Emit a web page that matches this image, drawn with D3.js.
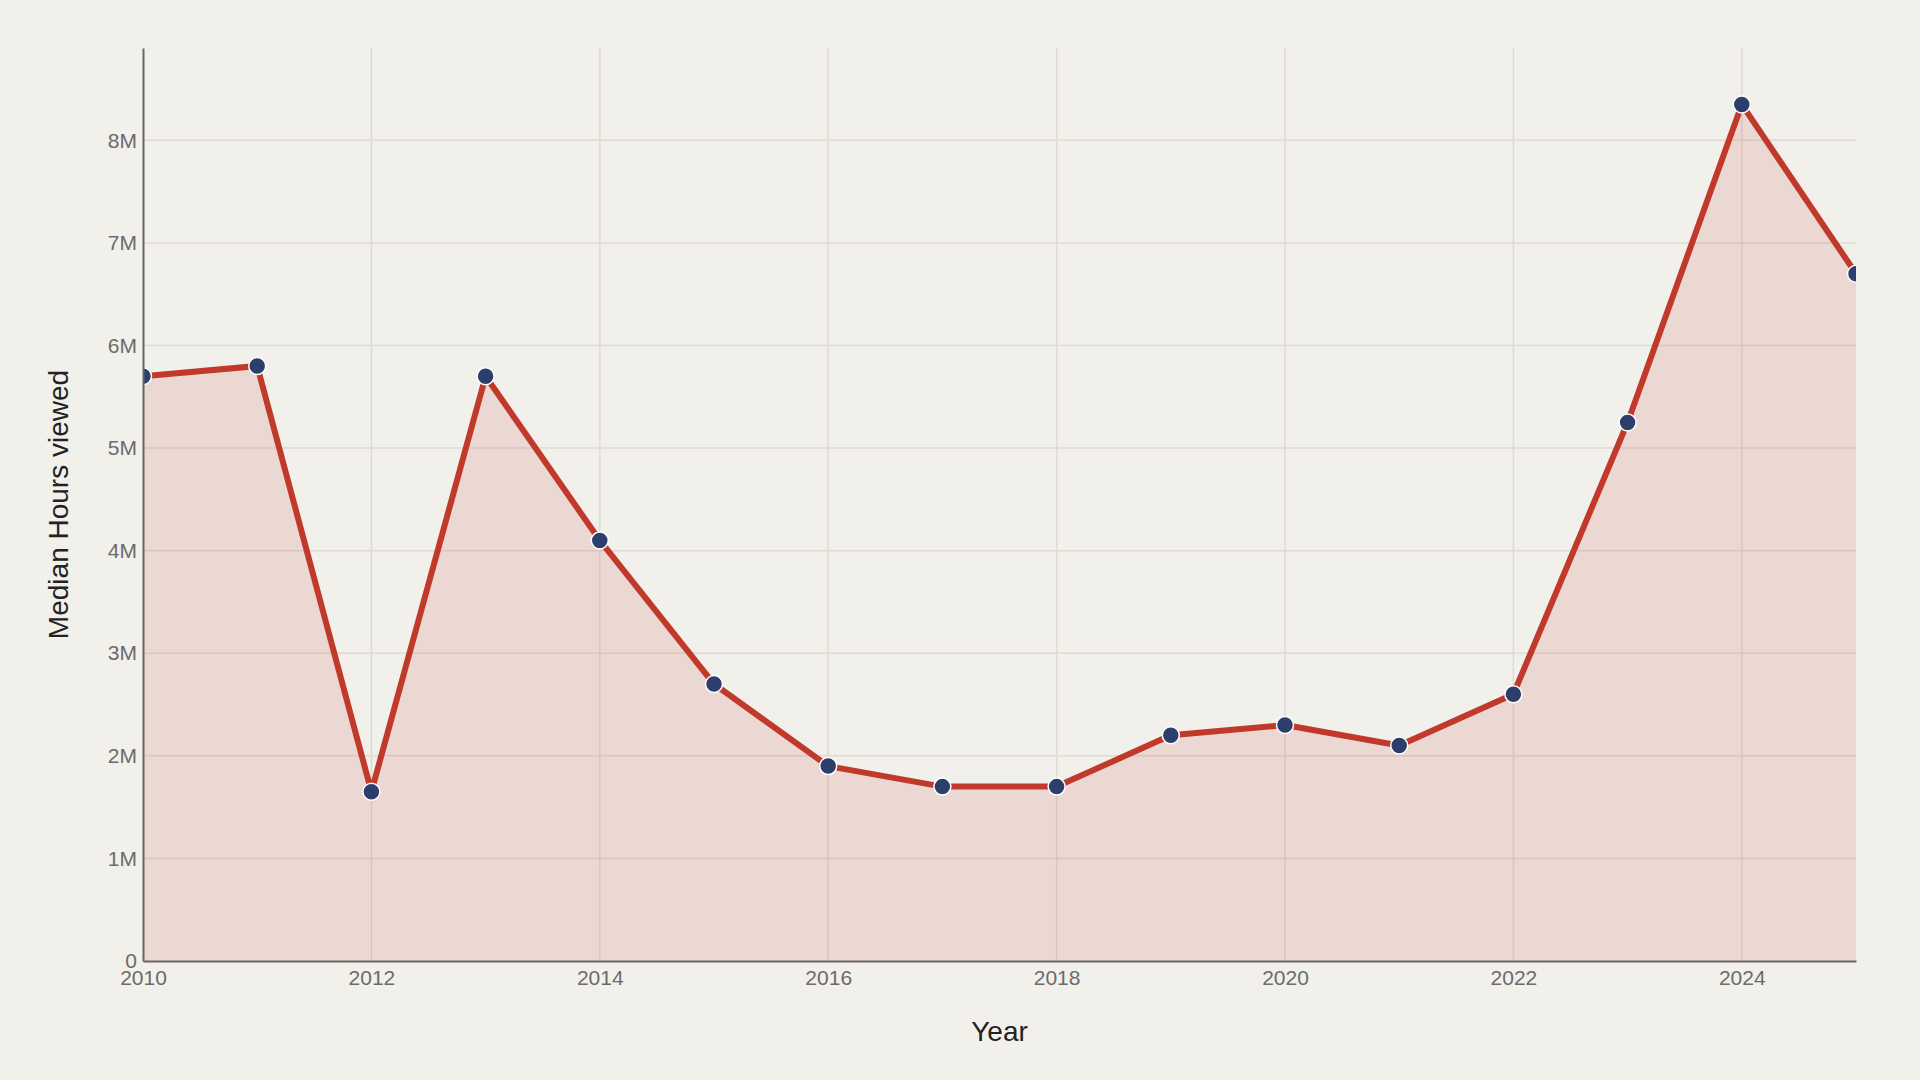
<!DOCTYPE html>
<html>
<head>
<meta charset="utf-8">
<script src="https://cdn.jsdelivr.net/npm/d3@7"></script>
<style>
  body { margin: 0; background: #f2f0eb; }
  svg { display: block; font-family: "Liberation Sans", Arial, sans-serif; }
</style>
</head>
<body>
<div id="chart"></div>
<script>
const WIDTH = 1920;
const HEIGHT = 1080;
const MARGIN = {top: 48, right: 64, bottom: 119, left: 143};

const years = [2010, 2011, 2012, 2013, 2014, 2015, 2016, 2017, 2018, 2019, 2020, 2021, 2022, 2023, 2024, 2025];
const hours = [5.7e6, 5.8e6, 1.65e6, 5.7e6, 4.1e6, 2.7e6, 1.9e6, 1.7e6, 1.7e6, 2.2e6, 2.3e6, 2.1e6, 2.6e6, 5.25e6, 8.35e6, 6.7e6];
const yTicks = [0, 1e6, 2e6, 3e6, 4e6, 5e6, 6e6, 7e6, 8e6];
const xTicks = [2010, 2012, 2014, 2016, 2018, 2020, 2022, 2024];

var data = years.map(function (y, i) { return {year: y, value: hours[i]}; });

var innerW = WIDTH - MARGIN.left - MARGIN.right;
var innerH = HEIGHT - MARGIN.top - MARGIN.bottom;

var x = d3.scaleLinear().domain([2010, 2025]).range([0, innerW]);
var y = d3.scaleLinear().domain([0, 8.9e6]).range([innerH, 0]);

var svg = d3.select('#chart').append('svg')
  .attr('width', WIDTH)
  .attr('height', HEIGHT);

svg.append('rect')
  .attr('width', WIDTH)
  .attr('height', HEIGHT)
  .attr('fill', '#f2f0eb');

var g = svg.append('g').attr('transform', 'translate(' + MARGIN.left + ',' + MARGIN.top + ')');

g.append('clipPath').attr('id', 'plot-clip')
  .append('rect')
  .attr('width', innerW)
  .attr('height', innerH);

// grid
g.append('g').selectAll('line.h')
  .data(yTicks.slice(1))
  .join('line')
  .attr('x1', 0).attr('x2', innerW)
  .attr('y1', function (d) { return y(d); })
  .attr('y2', function (d) { return y(d); })
  .attr('stroke', '#dedad4')
  .attr('stroke-width', 1.5);

g.append('g').selectAll('line.v')
  .data(xTicks.slice(1))
  .join('line')
  .attr('y1', 0).attr('y2', innerH)
  .attr('x1', function (d) { return x(d); })
  .attr('x2', function (d) { return x(d); })
  .attr('stroke', '#dedad4')
  .attr('stroke-width', 1.5);

var plot = g.append('g').attr('clip-path', 'url(#plot-clip)');

var area = d3.area()
  .x(function (d) { return x(d.year); })
  .y0(innerH)
  .y1(function (d) { return y(d.value); });

var line = d3.line()
  .x(function (d) { return x(d.year); })
  .y(function (d) { return y(d.value); });

plot.append('path')
  .datum(data)
  .attr('d', area)
  .attr('fill', '#c0392b')
  .attr('fill-opacity', 0.13);

plot.append('path')
  .datum(data)
  .attr('d', line)
  .attr('fill', 'none')
  .attr('stroke', '#c0392b')
  .attr('stroke-width', 6)
  .attr('stroke-linejoin', 'round');

plot.selectAll('circle')
  .data(data)
  .join('circle')
  .attr('cx', function (d) { return x(d.year); })
  .attr('cy', function (d) { return y(d.value); })
  .attr('r', 8.5)
  .attr('fill', '#2c3e6b')
  .attr('stroke', '#ffffff')
  .attr('stroke-width', 1.5);

// axes
var yAxis = g.append('g')
  .call(d3.axisLeft(y).tickValues(yTicks).tickSize(0).tickPadding(6)
    .tickFormat(function (d) { return d === 0 ? '0' : (d / 1e6) + 'M'; }));
var xAxis = g.append('g')
  .attr('transform', 'translate(0,' + innerH + ')')
  .call(d3.axisBottom(x).tickValues(xTicks).tickSize(0).tickPadding(9).tickFormat(d3.format('d')));

[yAxis, xAxis].forEach(function (a) {
  a.select('.domain').attr('stroke', '#666666').attr('stroke-width', 2);
  a.selectAll('text')
    .attr('fill', '#6b6b6b')
    .style('font-size', '21px')
    .style('font-family', '"Liberation Sans", Arial, sans-serif');
});

svg.append('text')
  .attr('x', MARGIN.left + innerW / 2)
  .attr('y', 1041)
  .attr('text-anchor', 'middle')
  .attr('fill', '#222222')
  .style('font-size', '28px')
  .text('Year');

svg.append('text')
  .attr('transform', 'translate(68,' + (MARGIN.top + innerH / 2) + ') rotate(-90)')
  .attr('text-anchor', 'middle')
  .attr('fill', '#222222')
  .style('font-size', '28px')
  .text('Median Hours viewed');
</script>
</body>
</html>
